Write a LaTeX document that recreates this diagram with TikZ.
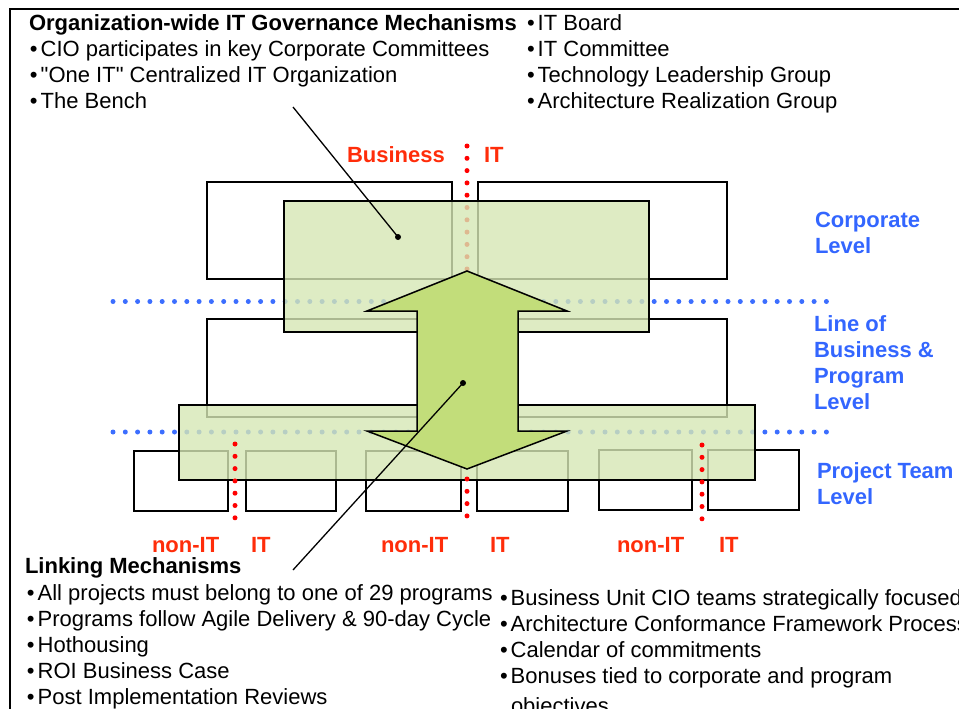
\documentclass[tikz,border=0pt]{standalone}
\usepackage{fontspec}
\setmainfont{Liberation Sans}[Ligatures=TeXOff]
\definecolor{redtxt}{RGB}{255,45,10}
\definecolor{bluetxt}{RGB}{51,102,255}
\definecolor{bluedot}{RGB}{60,110,255}
\definecolor{reddot}{RGB}{255,0,0}
\definecolor{boxgreen}{RGB}{214,231,181}
\definecolor{arrowgreen}{RGB}{194,221,122}
\begin{document}
\begin{tikzpicture}[x=1pt,y=-1pt,
  txt/.style={anchor=base west, inner sep=0pt, outer sep=0pt, font=\fontsize{22}{26}\selectfont},
  hd/.style={txt, font=\fontsize{22}{26}\selectfont\bfseries},
  redlbl/.style={hd, text=redtxt},
  bluelbl/.style={hd, text=bluetxt},
  plainbox/.style={draw=black, fill=white, line width=1.4pt, inner sep=0pt, outer sep=0pt, anchor=north west},
  greenbox/.style={draw=black, fill=boxgreen, fill opacity=0.8, line width=1.4pt, inner sep=0pt, outer sep=0pt, anchor=north west},
  bluedots/.style={draw=bluedot, line width=5pt, line cap=round, dash pattern=on 0pt off 12.3pt},
  reddots/.style={draw=reddot, line width=5pt, line cap=round, dash pattern=on 0pt off 12.3pt},
  pin/.style={circle, fill=black, inner sep=0pt, minimum size=6pt},
  leader/.style={draw=black, line width=1.3pt}
]
\useasboundingbox (0,0) rectangle (959,709);
\clip (0,0) rectangle (959,709);

% outer frame (open to the right and bottom)
\draw[line width=2pt] (9.5,709) -- (9.5,9.5) -- (959,9.5);

% business / IT boxes per level
\node[plainbox, minimum width=245pt, minimum height=97pt] (corpL) at (207,182) {};
\node[plainbox, minimum width=249pt, minimum height=97pt] (corpR) at (478,182) {};
\node[plainbox, minimum width=245pt, minimum height=98pt] (lobL) at (207,319) {};
\node[plainbox, minimum width=249pt, minimum height=98pt] (lobR) at (478,319) {};
\node[plainbox, minimum width=94pt, minimum height=60pt] (pA) at (134,451) {};
\node[plainbox, minimum width=90pt, minimum height=60pt] (pB) at (246,451) {};
\node[plainbox, minimum width=95pt, minimum height=60pt] (pC) at (366,451) {};
\node[plainbox, minimum width=91pt, minimum height=60pt] (pD) at (477,451) {};
\node[plainbox, minimum width=93pt, minimum height=60pt] (pE) at (599,450) {};
\node[plainbox, minimum width=91pt, minimum height=60pt] (pF) at (708,450) {};

% level separators and the business/IT divide
\coordinate (sepAl) at (113,301.5); \coordinate (sepAr) at (833,301.5);
\coordinate (sepBl) at (113,432);   \coordinate (sepBr) at (833,432);
\draw[bluedots] (sepAl) -- (sepAr);
\draw[bluedots] (sepBl) -- (sepBr);
\coordinate (divT) at (467,146); \coordinate (divB) at (467,270);
\draw[reddots] (divT) -- (divB);

% shaded mechanism bands
\node[greenbox, minimum width=365pt, minimum height=131pt] (gCorp) at (284,201) {};
\node[greenbox, minimum width=576pt, minimum height=75pt] (gProj) at (179,405) {};

% project-level divides
\coordinate (dA1) at (235,444); \coordinate (dA2) at (235,518);
\coordinate (dB1) at (467,479); \coordinate (dB2) at (467,516);
\coordinate (dC1) at (702,445); \coordinate (dC2) at (702,519);
\draw[reddots] (dA1) -- (dA2);
\draw[reddots] (dB1) -- (dB2);
\draw[reddots] (dC1) -- (dC2);

% two-headed linking arrow
\draw[fill=arrowgreen, line width=1.5pt, line join=miter]
  (467,271) -- (567,311) -- (518,311) -- (518,431) -- (567,431) -- (467,469)
  -- (367,431) -- (417,431) -- (417,311) -- (367,311) -- cycle;

% leader lines
\node[pin] (govdot) at (398,237) {};
\node[pin] (linkdot) at (463,383) {};
\coordinate (govstart) at (293,107);
\coordinate (linkstart) at (293,570);
\draw[leader] (govstart) -- (govdot.center);
\draw[leader] (linkstart) -- (linkdot.center);

% governance mechanisms
\node[hd] (govtitle) at (29,31) {Organization-wide IT Governance Mechanisms};
\node[txt] (g1) at (30,57) {•\hspace{3pt}CIO participates in key Corporate Committees};
\node[txt] (g2) at (30,83) {•\hspace{3pt}"One IT" Centralized IT Organization};
\node[txt] (g3) at (30,109) {•\hspace{3pt}The Bench};
\node[txt] (g4) at (527,31) {•\hspace{3pt}IT Board};
\node[txt] (g5) at (527,57) {•\hspace{3pt}IT Committee};
\node[txt] (g6) at (527,83) {•\hspace{3pt}Technology Leadership Group};
\node[txt] (g7) at (527,109) {•\hspace{3pt}Architecture Realization Group};

% business / IT labels
\node[redlbl] (busT) at (347,162) {Business};
\node[redlbl] (itT) at (484,162) {IT};
\node[redlbl] (nA) at (152,552) {non-IT};
\node[redlbl] (iA) at (251,552) {IT};
\node[redlbl] (nB) at (381,552) {non-IT};
\node[redlbl] (iB) at (490,552) {IT};
\node[redlbl] (nC) at (617,552) {non-IT};
\node[redlbl] (iC) at (719,552) {IT};

% level labels
\node[bluelbl] (cl1) at (815,227) {Corporate};
\node[bluelbl] (cl2) at (815,253) {Level};
\node[bluelbl] (ll1) at (814,331) {Line of};
\node[bluelbl] (ll2) at (814,357) {Business \&};
\node[bluelbl] (ll3) at (814,383) {Program};
\node[bluelbl] (ll4) at (814,409) {Level};
\node[bluelbl] (pl1) at (817,478) {Project Team};
\node[bluelbl] (pl2) at (817,504) {Level};

% linking mechanisms
\node[hd] (linktitle) at (25,573) {Linking Mechanisms};
\node[txt] (k1) at (27,600) {•\hspace{3pt}All projects must belong to one of 29 programs};
\node[txt] (k2) at (27,626) {•\hspace{3pt}Programs follow Agile Delivery \& 90-day Cycle};
\node[txt] (k3) at (27,652) {•\hspace{3pt}Hothousing};
\node[txt] (k4) at (27,678) {•\hspace{3pt}ROI Business Case};
\node[txt] (k5) at (27,704) {•\hspace{3pt}Post Implementation Reviews};
\node[txt] (k6) at (500,605) {•\hspace{3pt}Business Unit CIO teams strategically focused};
\node[txt] (k7) at (500,631) {•\hspace{3pt}Architecture Conformance Framework Process};
\node[txt] (k8) at (500,657) {•\hspace{3pt}Calendar of commitments};
\node[txt] (k9) at (500,683) {•\hspace{3pt}Bonuses tied to corporate and program};
\node[txt] (k10) at (511,713) {objectives};
\end{tikzpicture}
\end{document}
